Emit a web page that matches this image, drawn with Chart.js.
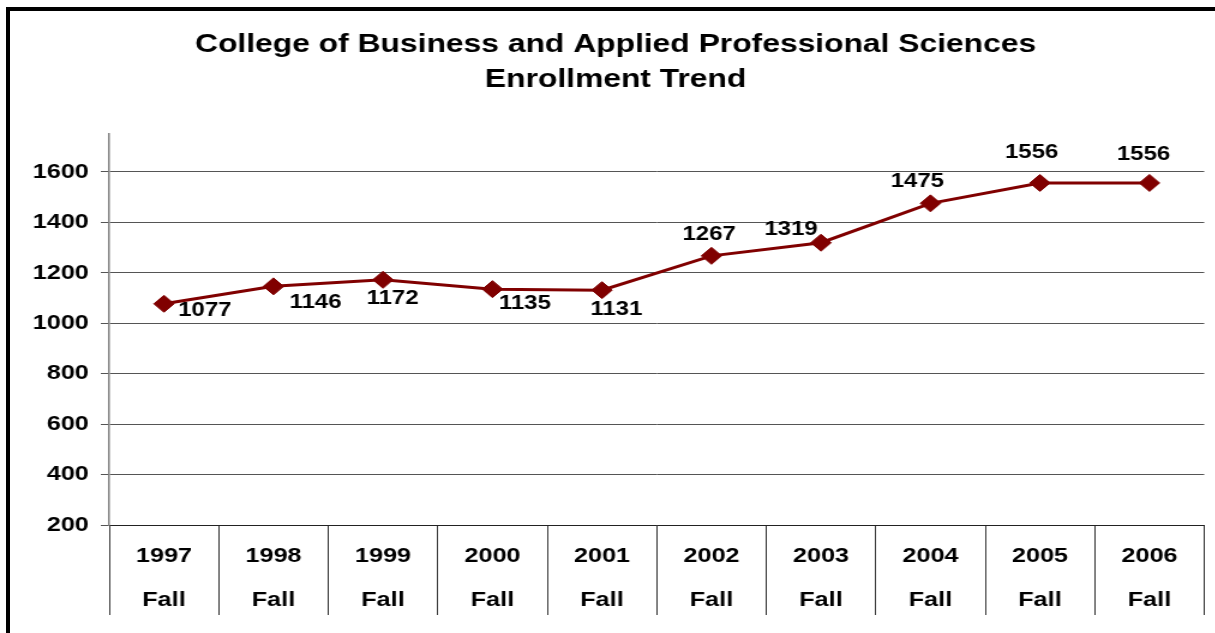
<!DOCTYPE html>
<html>
<head>
<meta charset="utf-8">
<script src="https://cdn.jsdelivr.net/npm/chart.js@4"></script>
<style>
  html, body { margin: 0; padding: 0; background: #fff; overflow: hidden; }
  #frame {
    position: absolute; left: 6px; top: 7px; width: 1300px; height: 700px;
    border-left: 4px solid #000; border-top: 4px solid #000;
  }
  #chart {
    position: absolute; left: 0; top: 0;
    width: 1013px; height: 633px;
    transform: scaleX(1.2); transform-origin: 0 0;
  }
</style>
</head>
<body>
<div id="frame"></div>
<canvas id="chart" width="1013" height="633"></canvas>
<script>
var titleLines = ['College of Business and Applied Professional Sciences', 'Enrollment Trend'];
var years = ['1997', '1998', '1999', '2000', '2001', '2002', '2003', '2004', '2005', '2006'];
var term = 'Fall';
var enrollment = [1077, 1146, 1172, 1135, 1131, 1267, 1319, 1475, 1556, 1556];
var yMin = 200;
var yMax = 1750;
var yStep = 200;

// where each value label sits relative to its marker (canvas px)
var labelOffsets = [[34, 7], [35, 16], [8, 19], [27, 14], [12, 19], [-2, -21], [-25, -13], [-11, -22], [-7, -30], [-5, -28]];

(function() {
  var font = "'Liberation Sans', Arial, sans-serif";
  var red = '#800000';

  // title drawn by hand so it can sit a little right of the canvas centre, like the original
  var chartTitle = {
    id: 'chartTitle',
    afterDraw: function(chart) {
      var ctx = chart.ctx;
      ctx.save();
      ctx.font = 'bold 26.5px ' + font;
      ctx.fillStyle = '#000';
      ctx.textAlign = 'center';
      ctx.textBaseline = 'middle';
      ctx.fillText(titleLines[0], 513, 45);
      ctx.fillText(titleLines[1], 513, 80);
      ctx.restore();
    }
  };

  var valueLabels = {
    id: 'valueLabels',
    afterDatasetsDraw: function(chart) {
      var ctx = chart.ctx;
      var meta = chart.getDatasetMeta(0);
      ctx.save();
      ctx.font = 'bold 20px ' + font;
      ctx.fillStyle = '#000';
      ctx.textAlign = 'center';
      ctx.textBaseline = 'middle';
      meta.data.forEach(function(pt, i) {
        var off = labelOffsets[i];
        ctx.fillText(String(enrollment[i]), pt.x + off[0], pt.y + off[1]);
      });
      ctx.restore();
    }
  };

  new Chart(document.getElementById('chart'), {
    type: 'line',
    data: {
      labels: years.map(function(y) { return [y, term]; }),
      datasets: [{
        data: enrollment,
        borderColor: red,
        backgroundColor: red,
        borderWidth: 3,
        pointStyle: 'rectRot',
        pointRadius: 8.5,
        pointHoverRadius: 8.5,
        pointBackgroundColor: red,
        pointBorderColor: red,
        pointBorderWidth: 1,
        tension: 0,
        fill: false
      }]
    },
    options: {
      responsive: false,
      animation: false,
      layout: { padding: { left: 0, right: 9, top: 134, bottom: 0 } },
      plugins: {
        legend: { display: false },
        tooltip: { enabled: false },
        title: { display: false }
      },
      scales: {
        x: {
          offset: true,
          afterFit: function(s) { s.height = 108; },
          border: { display: true, color: '#222', width: 1 },
          grid: {
            offset: true,
            drawOnChartArea: false,
            drawTicks: true,
            tickLength: 90,
            color: '#333',
            lineWidth: 1
          },
          ticks: {
            color: '#000',
            padding: -81,
            maxRotation: 0,
            autoSkip: false,
            font: { family: font, size: 21, weight: 'bold', lineHeight: 44 / 21 }
          }
        },
        y: {
          min: yMin,
          max: yMax,
          afterFit: function(s) { s.width = 91; },
          border: { display: true, color: '#808080', width: 1.5 },
          grid: { color: '#555', lineWidth: 1, tickLength: 7 },
          ticks: {
            stepSize: yStep,
            includeBounds: false,
            color: '#000',
            padding: 10,
            font: { family: font, size: 21, weight: 'bold' },
            callback: function(v) { return String(v); }
          }
        }
      }
    },
    plugins: [valueLabels, chartTitle]
  });
})();
</script>
</body>
</html>
